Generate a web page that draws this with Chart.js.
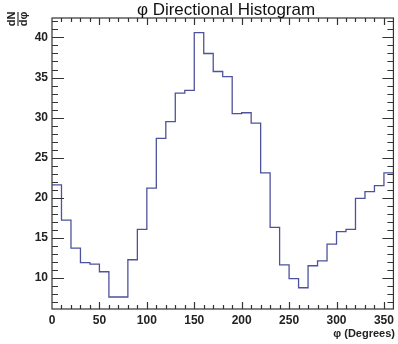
<!DOCTYPE html>
<html>
<head>
<meta charset="utf-8">
<script src="https://cdn.jsdelivr.net/npm/chart.js@4"></script>
<style>
  html, body { margin: 0; background: #fff; }
  canvas { display: block; }
</style>
</head>
<body>
<canvas id="histo" width="398" height="344"></canvas>
<script>
// 10 degree bins, left edges
const binStarts = [0, 10, 20, 30, 40, 50, 60, 70, 80, 90, 100, 110, 120, 130, 140, 150, 160, 170,
                   180, 190, 200, 210, 220, 230, 240, 250, 260, 270, 280, 290, 300, 310, 320, 330, 340, 350];
const counts = [21.6, 17.2, 13.7, 11.9, 11.7, 10.75, 7.6, 7.6, 12.25, 16.05, 21.2, 27.4, 29.5, 33.05, 33.4, 40.6, 38.0, 35.75,
                35.1, 30.5, 30.6, 29.3, 23.1, 16.3, 11.6, 9.9, 8.75, 11.5, 12.1, 14.2, 15.75, 16.05, 19.9, 20.75, 21.5, 23.1];
const binEnd = 360;
const xTicks = [0, 50, 100, 150, 200, 250, 300, 350];
const yTicks = [10, 15, 20, 25, 30, 35, 40];

const X_MIN = 0, X_MAX = 360;
const Y_MIN = 6.1, Y_MAX = 42.43;
const FONT = '"Liberation Sans", Arial, Helvetica, sans-serif';
const LINE_COLOR = '#4e529c';
const AXIS_COLOR = '#333';

// histogram as a stepped line: each point at bin left edge, closing point at the last edge
const points = binStarts.map((x, i) => ({ x, y: counts[i] }));
points.push({ x: binEnd, y: counts[counts.length - 1] });

// ROOT style frame, mirrored ticks and the texts
const framePlugin = {
  id: 'frame',
  afterDraw(chart){
    const { ctx, chartArea: a, scales: { x, y } } = chart;
    ctx.save();
    ctx.strokeStyle = AXIS_COLOR;
    ctx.lineWidth = 1.2;
    ctx.strokeRect(a.left, a.top, a.right - a.left, a.bottom - a.top);

    ctx.beginPath();
    for(let v = X_MIN + 10; v < X_MAX; v += 10){
      const len = v % 50 === 0 ? 7 : 4;
      const px = Math.round(x.getPixelForValue(v)) + 0.5;
      ctx.moveTo(px, a.bottom); ctx.lineTo(px, a.bottom - len);
      ctx.moveTo(px, a.top); ctx.lineTo(px, a.top + len);
    }
    for(let v = Math.ceil(Y_MIN); v <= Y_MAX; v++){
      const major = v % 5 === 0;
      const py = Math.round(y.getPixelForValue(v)) + 0.5;
      ctx.moveTo(a.left, py); ctx.lineTo(a.left + (major ? 12 : 6), py);
      ctx.moveTo(a.right, py); ctx.lineTo(a.right - (major ? 11 : 6), py);
    }
    ctx.stroke();

    // title
    ctx.fillStyle = '#111';
    ctx.font = `17px ${FONT}`;
    ctx.textAlign = 'center';
    ctx.textBaseline = 'alphabetic';
    ctx.fillText('\u03c6 Directional Histogram', 226, 15);

    // x axis title
    ctx.font = `bold 11px ${FONT}`;
    ctx.textAlign = 'right';
    ctx.fillStyle = '#222';
    ctx.fillText('\u03c6 (Degrees)', 395, 337);

    // y axis title: dN/dphi, rotated
    ctx.translate(18, 19);
    ctx.rotate(-Math.PI / 2);
    ctx.font = `bold 11px ${FONT}`;
    ctx.textAlign = 'center';
    ctx.textBaseline = 'middle';
    ctx.fillText('dN', 0, -6);
    ctx.fillText('d\u03c6', 0, 6);
    ctx.beginPath();
    ctx.lineWidth = 1.2;
    ctx.moveTo(-7, 0); ctx.lineTo(7, 0);
    ctx.stroke();
    ctx.restore();
  }
};

new Chart(document.getElementById('histo'), {
  type: 'line',
  data: {
    datasets: [{
      data: points,
      stepped: true,
      borderColor: LINE_COLOR,
      borderWidth: 1.3,
      pointRadius: 0,
      fill: false
    }]
  },
  options: {
    responsive: false,
    animation: false,
    layout: { padding: { left: 0, top: 18, right: 2, bottom: 0 } },
    plugins: { legend: { display: false }, tooltip: { enabled: false } },
    scales: {
      x: {
        type: 'linear', min: X_MIN, max: X_MAX,
        grid: { display: false, drawTicks: false },
        border: { display: false },
        afterBuildTicks: s => { s.ticks = xTicks.map(v => ({ value: v })); },
        afterFit: s => { s.height = 35; },
        ticks: { padding: 4, maxRotation: 0, autoSkip: false, color: '#222',
                 font: { family: FONT, size: 12, weight: 'bold' } }
      },
      y: {
        type: 'linear', min: Y_MIN, max: Y_MAX,
        grid: { display: false, drawTicks: false },
        border: { display: false },
        afterBuildTicks: s => { s.ticks = yTicks.map(v => ({ value: v })); },
        afterFit: s => { s.width = 52; },
        ticks: { padding: 4, color: '#222',
                 font: { family: FONT, size: 12, weight: 'bold' } }
      }
    }
  },
  plugins: [framePlugin]
});
</script>
</body>
</html>
